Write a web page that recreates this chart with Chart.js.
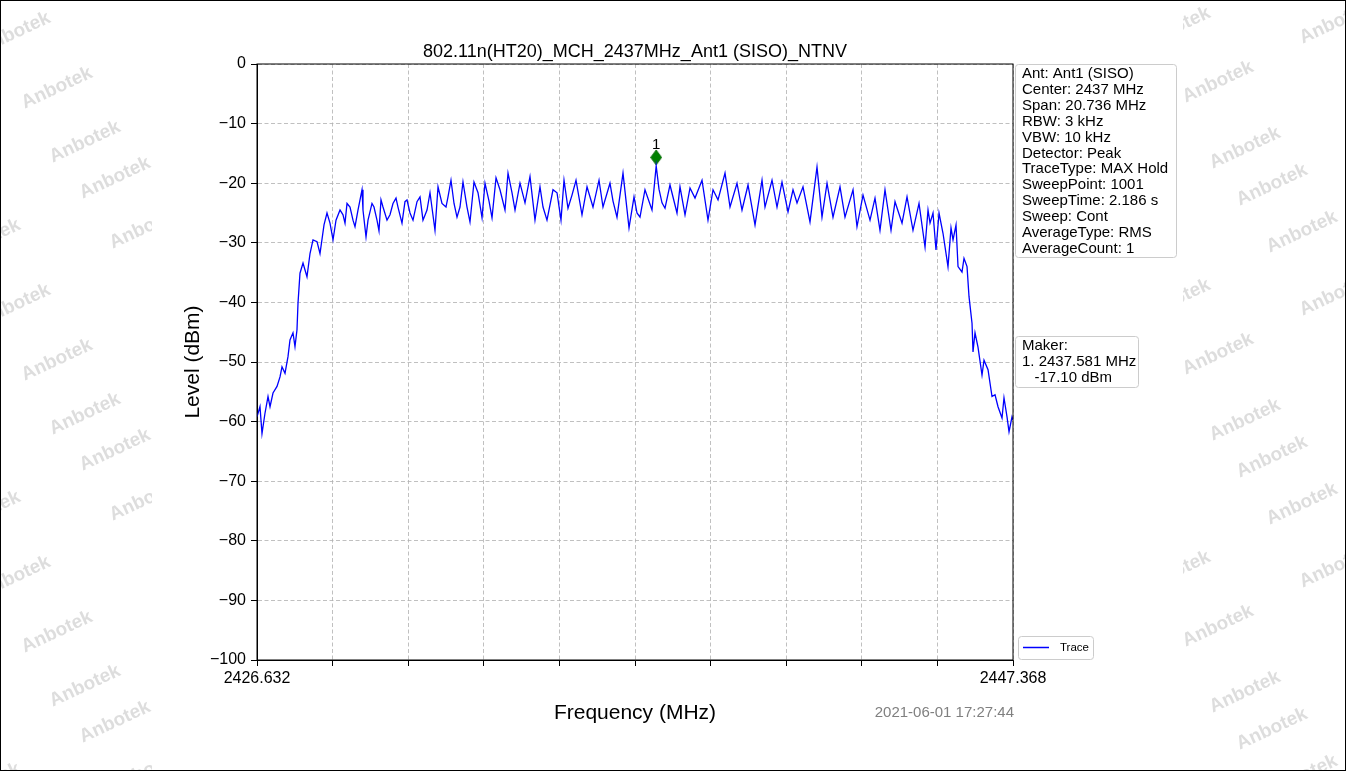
<!DOCTYPE html>
<html>
<head>
<meta charset="utf-8">
<script src="https://cdn.jsdelivr.net/npm/chart.js@4"></script>
<style>
  html, body { margin: 0; padding: 0; background: #fff; }
  #wrap { width: 1346px; height: 771px; }
</style>
</head>
<body>
<div id="wrap"><canvas id="specChart" width="1346" height="771"></canvas></div>
<script>
const chartTitle = "802.11n(HT20)_MCH_2437MHz_Ant1 (SISO)_NTNV";
const xTitle = "Frequency (MHz)";
const yTitle = "Level (dBm)";
const stamp = "2021-06-01 17:27:44";

const xMin = 2426.632;
const xMax = 2447.368;
const xTickValues = [2426.632, 2428.706, 2430.779, 2432.853, 2434.926, 2437.000,
    2439.074, 2441.147, 2443.221, 2445.294, 2447.368];
const yMin = -100;
const yMax = 0;

const infoLines = [
    "Ant: Ant1 (SISO)", "Center: 2437 MHz", "Span: 20.736 MHz", "RBW: 3 kHz",
    "VBW: 10 kHz", "Detector: Peak", "TraceType: MAX Hold", "SweepPoint: 1001",
    "SweepTime: 2.186 s", "Sweep: Cont", "AverageType: RMS", "AverageCount: 1"
];
const makerLines = ["Maker:", "1. 2437.581 MHz", "   -17.10 dBm"];

const markerFreq = 2437.581;
const markerLevel = -17.10;

// trace (MHz / dBm)
const traceFreq = [
    2426.632, 2426.714, 2426.769, 2426.851, 2426.934, 2426.989, 2427.071, 2427.181, 2427.263, 2427.318,
    2427.400, 2427.482, 2427.537, 2427.619, 2427.674, 2427.729, 2427.757, 2427.811, 2427.894, 2428.003,
    2428.086, 2428.168, 2428.278, 2428.360, 2428.470, 2428.552, 2428.634, 2428.717, 2428.799, 2428.909,
    2428.991, 2429.046, 2429.101, 2429.183, 2429.265, 2429.320, 2429.402, 2429.512, 2429.539, 2429.622,
    2429.677, 2429.786, 2429.841, 2429.923, 2429.978, 2430.033, 2430.088, 2430.198, 2430.280, 2430.362,
    2430.445, 2430.499, 2430.609, 2430.691, 2430.746, 2430.829, 2430.911, 2431.021, 2431.103, 2431.185,
    2431.295, 2431.377, 2431.514, 2431.597, 2431.706, 2431.816, 2431.871, 2431.953, 2432.036, 2432.118,
    2432.200, 2432.282, 2432.392, 2432.474, 2432.584, 2432.694, 2432.804, 2432.886, 2432.996, 2433.078,
    2433.188, 2433.297, 2433.434, 2433.517, 2433.626, 2433.709, 2433.846, 2433.983, 2434.120, 2434.257,
    2434.394, 2434.477, 2434.586, 2434.751, 2434.861, 2434.970, 2435.053, 2435.162, 2435.272, 2435.382,
    2435.546, 2435.684, 2435.848, 2436.013, 2436.122, 2436.314, 2436.397, 2436.506, 2436.671, 2436.836,
    2436.973, 2437.055, 2437.137, 2437.274, 2437.466, 2437.581, 2437.658, 2437.741, 2437.823, 2437.960,
    2438.152, 2438.234, 2438.372, 2438.509, 2438.646, 2438.838, 2439.002, 2439.140, 2439.277, 2439.469,
    2439.606, 2439.798, 2439.935, 2440.100, 2440.292, 2440.484, 2440.566, 2440.758, 2440.895, 2441.032,
    2441.197, 2441.334, 2441.444, 2441.608, 2441.800, 2441.992, 2442.129, 2442.267, 2442.431, 2442.623,
    2442.760, 2442.980, 2443.089, 2443.254, 2443.446, 2443.583, 2443.720, 2443.857, 2444.022, 2444.132,
    2444.324, 2444.461, 2444.625, 2444.790, 2444.955, 2445.037, 2445.092, 2445.174, 2445.256, 2445.339,
    2445.448, 2445.585, 2445.668, 2445.723, 2445.805, 2445.860, 2445.969, 2446.024, 2446.107, 2446.161,
    2446.244, 2446.271, 2446.326, 2446.408, 2446.518, 2446.573, 2446.683, 2446.792, 2446.875, 2446.957,
    2447.067, 2447.121, 2447.204, 2447.259, 2447.341, 2447.368
];
const traceLevel = [
    -59.2, -57.5, -62.0, -58.6, -55.8, -57.5, -55.2, -54.1, -52.5, -50.8,
    -51.9, -49.1, -46.3, -45.1, -47.4, -44.6, -40.1, -35.1, -33.4, -35.7,
    -31.8, -29.5, -29.8, -31.8, -27.0, -25.0, -26.7, -29.5, -26.2, -24.5,
    -25.3, -26.7, -23.4, -24.0, -26.2, -27.3, -24.5, -21.1, -24.5, -29.0,
    -26.2, -23.4, -24.0, -26.2, -28.0, -22.8, -24.0, -26.2, -25.3, -23.4,
    -22.5, -24.0, -26.7, -23.1, -22.8, -25.0, -26.2, -23.1, -22.3, -26.2,
    -24.5, -21.6, -27.9, -20.6, -23.4, -24.0, -22.3, -19.5, -23.4, -25.7,
    -24.0, -19.8, -24.0, -26.5, -19.8, -21.6, -25.8, -20.0, -23.0, -25.8,
    -19.1, -21.1, -24.5, -18.3, -21.6, -24.5, -20.0, -23.3, -18.9, -26.2,
    -20.6, -24.0, -26.2, -21.1, -21.6, -26.2, -19.5, -24.2, -22.0, -19.5,
    -25.3, -20.6, -24.0, -19.5, -24.0, -20.0, -23.0, -25.7, -18.3, -27.5,
    -22.3, -25.0, -25.7, -21.1, -24.5, -17.1, -21.0, -23.3, -24.2, -20.3,
    -25.0, -20.6, -25.3, -20.8, -22.5, -19.5, -26.2, -21.1, -22.8, -18.3,
    -24.0, -20.0, -24.5, -20.3, -27.0, -19.5, -24.0, -19.5, -24.0, -19.8,
    -24.8, -21.1, -23.3, -20.6, -26.5, -17.3, -25.7, -20.0, -25.7, -20.6,
    -25.7, -21.1, -27.3, -22.0, -26.2, -22.5, -27.9, -21.1, -27.9, -23.1,
    -26.7, -22.3, -27.9, -23.4, -30.7, -24.5, -26.7, -25.0, -31.2, -25.0,
    -28.4, -34.0, -27.5, -29.5, -27.0, -34.0, -34.9, -32.6, -34.0, -39.0,
    -43.5, -48.3, -45.1, -47.5, -52.2, -49.7, -51.3, -55.8, -55.5, -57.5,
    -59.4, -56.0, -59.2, -61.7, -59.2, -59.7
];

if (traceFreq.length !== traceLevel.length) {
    throw new Error("trace arrays differ: " + traceFreq.length + " / " + traceLevel.length);
}

const fontFamily = "'Liberation Sans', Arial, sans-serif";

// diamond marker drawn just above the peak point
function makeDiamond() {
    const c = document.createElement("canvas");
    c.width = 12;
    c.height = 34;
    const g = c.getContext("2d");
    g.fillStyle = "#008000";
    g.strokeStyle = "#006400";
    g.lineWidth = 0.8;
    g.beginPath();
    g.moveTo(6, 1);
    g.lineTo(11.5, 8.5);
    g.lineTo(6, 16);
    g.lineTo(0.5, 8.5);
    g.closePath();
    g.fill();
    g.stroke();
    return c;
}

const watermarkTile = [[57, 88], [85, 142], [115, 178], [145, 228], [-15, 240], [15, 305],
    [1218, 82], [1245, 148], [1272, 185], [1302, 232], [1175, 300], [1335, 295]];

function drawWatermarks(ctx, w, h) {
    ctx.save();
    ctx.beginPath();
    ctx.rect(0, 0, 152, h);
    ctx.rect(1183, 0, w - 1183, h);
    ctx.clip();
    ctx.font = "bold 19px " + fontFamily;
    ctx.fillStyle = "rgba(150,150,150,0.32)";
    ctx.textAlign = "center";
    ctx.textBaseline = "middle";
    for (let k = -1; k < 3; k++) {
        watermarkTile.forEach(p => {
            ctx.save();
            ctx.translate(p[0], p[1] + k * 272);
            ctx.rotate(-25 * Math.PI / 180);
            ctx.fillText("Anbotek", 0, 0);
            ctx.restore();
        });
    }
    ctx.restore();
}

function drawBox(ctx, x, y, w, h) {
    ctx.save();
    ctx.fillStyle = "rgba(255,255,255,0.85)";
    ctx.strokeStyle = "#cccccc";
    ctx.lineWidth = 1;
    ctx.beginPath();
    ctx.roundRect(x + 0.5, y + 0.5, w, h, 3);
    ctx.fill();
    ctx.stroke();
    ctx.restore();
}

const decorPlugin = {
    id: "decor",
    beforeDraw(chart) {
        const ctx = chart.ctx;
        ctx.save();
        ctx.fillStyle = "#ffffff";
        ctx.fillRect(0, 0, chart.width, chart.height);
        ctx.restore();
        drawWatermarks(ctx, chart.width, chart.height);
    },
    afterDraw(chart) {
        const ctx = chart.ctx;
        const a = chart.chartArea;
        const xs = chart.scales.x;
        const ys = chart.scales.y;

        ctx.save();
        // spines
        ctx.strokeStyle = "#000";
        ctx.lineWidth = 1;
        ctx.strokeRect(a.left, a.top, a.right - a.left, a.bottom - a.top);

        ctx.fillStyle = "#000";
        ctx.textAlign = "center";
        ctx.textBaseline = "alphabetic";
        ctx.font = "18px " + fontFamily;
        ctx.fillText(chartTitle, (a.left + a.right) / 2, 57);

        ctx.font = "21px " + fontFamily;
        ctx.fillText(xTitle, (a.left + a.right) / 2, 719);

        ctx.save();
        ctx.translate(199, (a.top + a.bottom) / 2);
        ctx.rotate(-Math.PI / 2);
        ctx.fillText(yTitle, 0, 0);
        ctx.restore();

        ctx.font = "15px " + fontFamily;
        ctx.fillStyle = "#808080";
        ctx.textAlign = "right";
        ctx.fillText(stamp, a.right + 1, 717);

        // marker label
        const mx = xs.getPixelForValue(markerFreq);
        const my = ys.getPixelForValue(markerLevel);
        ctx.fillStyle = "#000";
        ctx.textAlign = "center";
        ctx.font = "15px " + fontFamily;
        ctx.fillText("1", mx, my - 17);

        // setting box
        drawBox(ctx, 1015, 64, 161, 193);
        ctx.fillStyle = "#000";
        ctx.textAlign = "left";
        ctx.font = "15px " + fontFamily;
        infoLines.forEach((t, i) => ctx.fillText(t, 1022, 78 + i * 15.9));

        // maker box
        drawBox(ctx, 1015, 336, 123, 51);
        makerLines.forEach((t, i) => ctx.fillText(t, 1022, 350 + i * 16.2));

        // legend
        const ds = chart.data.datasets[0];
        drawBox(ctx, 1018, 636, 75, 23);
        ctx.strokeStyle = ds.borderColor;
        ctx.lineWidth = 1.5;
        ctx.beginPath();
        ctx.moveTo(1023, 647.5);
        ctx.lineTo(1049, 647.5);
        ctx.stroke();
        ctx.fillStyle = "#000";
        ctx.font = "11.5px " + fontFamily;
        ctx.textBaseline = "middle";
        ctx.fillText(ds.label, 1060, 648);

        // outer frame of the picture
        ctx.strokeStyle = "#000";
        ctx.lineWidth = 1;
        ctx.strokeRect(0.5, 0.5, chart.width - 1, chart.height - 1);
        ctx.restore();
    }
};

const tracePoints = traceFreq.map((f, i) => ({ x: f, y: traceLevel[i] }));

const ctx = document.getElementById("specChart");

const chart = new Chart(ctx, {
    type: "line",
    data: {
        datasets: [{
            label: "Trace",
            data: tracePoints,
            borderColor: "#0000ff",
            borderWidth: 1.3,
            pointRadius: 0,
            tension: 0,
            fill: false
        }, {
            label: "Marker",
            data: [{ x: markerFreq, y: markerLevel }],
            showLine: false,
            pointStyle: makeDiamond(),
            pointRadius: 6,
            borderWidth: 0
        }]
    },
    options: {
        responsive: false,
        animation: false,
        devicePixelRatio: 1,
        layout: {
            padding: { left: 0, right: 333, top: 64, bottom: 0 }
        },
        plugins: {
            legend: { display: false },
            title: { display: false },
            tooltip: { enabled: false }
        },
        scales: {
            x: {
                type: "linear",
                min: xMin,
                max: xMax,
                afterBuildTicks: scale => {
                    scale.ticks = xTickValues.map(v => ({ value: v }));
                },
                afterFit: scale => {
                    scale.height = 111;
                },
                ticks: {
                    autoSkip: false,
                    maxRotation: 0,
                    padding: 3,
                    color: "#000",
                    font: { family: fontFamily, size: 16 },
                    callback: (value, index) =>
                        (index === 0 || index === xTickValues.length - 1) ? value.toFixed(3) : ""
                },
                grid: {
                    color: "#b0b0b0",
                    lineWidth: 0.8,
                    tickColor: "#000",
                    tickLength: 6,
                    tickWidth: 1,
                    tickBorderDash: []
                },
                border: { display: true, color: "#000", width: 1, dash: [4, 2.5] }
            },
            y: {
                min: yMin,
                max: yMax,
                afterFit: scale => {
                    scale.width = 257;
                },
                ticks: {
                    stepSize: 10,
                    padding: 5,
                    color: "#000",
                    font: { family: fontFamily, size: 16 },
                    callback: value => value < 0 ? "\u2212" + Math.abs(value) : String(value)
                },
                grid: {
                    color: "#b0b0b0",
                    lineWidth: 0.8,
                    tickColor: "#000",
                    tickLength: 6,
                    tickWidth: 1,
                    tickBorderDash: []
                },
                border: { display: true, color: "#000", width: 1, dash: [4, 2.5] }
            }
        }
    },
    plugins: [decorPlugin]
});
</script>
</body>
</html>
